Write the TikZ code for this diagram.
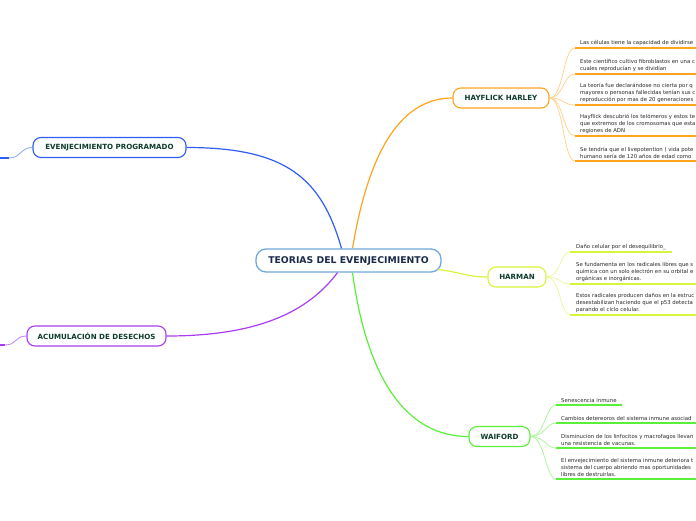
\documentclass[tikz,border=0pt]{standalone}
\usepackage{fontspec}
\setmainfont{DejaVu Sans}
\definecolor{cbord}{HTML}{6FA8DC}
\definecolor{navy}{HTML}{1B2A49}
\definecolor{dkg}{HTML}{0E3B2B}
\definecolor{blu}{HTML}{2F5CF5}
\definecolor{blul}{HTML}{8FB0F8}
\definecolor{org}{HTML}{FFA41C}
\definecolor{orgl}{HTML}{FFD08A}
\definecolor{ylw}{HTML}{D6F53C}
\definecolor{ylwl}{HTML}{E8F79A}
\definecolor{grn}{HTML}{5AF03A}
\definecolor{grnl}{HTML}{A6F594}
\definecolor{pur}{HTML}{A93BF0}
\definecolor{purl}{HTML}{C98AF5}
\definecolor{ltxt}{HTML}{262626}
\begin{document}
\begin{tikzpicture}[x=1pt,y=-1pt,
  central/.style={draw=cbord, line width=1.3pt, rounded corners=10pt, fill=white,
    minimum width=185pt, minimum height=23pt, inner sep=0pt,
    font=\fontsize{9.3}{11}\selectfont\bfseries, text=navy},
  sub/.style={rounded corners=8pt, line width=1.1pt, fill=white, minimum height=20pt,
    inner sep=0pt, font=\fontsize{7.1}{8.5}\selectfont\bfseries, text=dkg},
  leaf/.style={anchor=south west, inner sep=0pt, align=left,
    font=\fontsize{5.35}{6.7}\selectfont, text=ltxt},
  uline/.style={line width=2pt},
  twig/.style={line width=0.7pt},
  mainc/.style={line width=1.2pt}
]
\clip (0,0) rectangle (696,520);

% main nodes
\node[central] (c) at (348.5,260.5) {TEORIAS DEL EVENJECIMIENTO};
\node[sub, draw=org, minimum width=96pt] (hay) at (501,98) {HAYFLICK HARLEY};
\node[sub, draw=ylw, minimum width=58pt] (har) at (517,277) {HARMAN};
\node[sub, draw=grn, minimum width=61pt] (wai) at (499.5,436.5) {WAIFORD};
\node[sub, draw=blu, minimum width=153pt] (evp) at (109.5,147.5) {EVENJECIMIENTO PROGRAMADO};
\node[sub, draw=pur, minimum width=139pt] (acu) at (96.5,336) {ACUMULACIÓN DE DESECHOS};

% main connectors
\draw[mainc, blu] ([xshift=-7pt]c.north) .. controls +(-20,-70) and +(100,0) .. (evp.east);
\draw[mainc, org] ([xshift=4pt]c.north) .. controls +(15,-90) and +(-55,0) .. (hay.west);
\draw[mainc, pur] ([xshift=-11pt]c.south) .. controls +(-30,40) and +(90,0) .. (acu.east);
\draw[mainc, grn] ([xshift=4pt]c.south) .. controls +(15,110) and +(-60,0) .. (wai.west);
\draw[mainc, ylw] ([xshift=-4pt,yshift=-9pt]c.east) .. controls +(20,2) and +(-20,0) .. (har.west);

% left stubs
\coordinate (bl) at (9,158);
\coordinate (bl0) at (-2,158);
\draw[twig, blul, line width=0.9pt] (evp.west) .. controls +(-12,0) and +(12,0) .. (bl);
\draw[uline, blu] (bl) -- (bl0);
\coordinate (pl) at (5,345);
\coordinate (pl0) at (-2,345);
\draw[twig, purl, line width=0.9pt] (acu.west) .. controls +(-12,0) and +(12,0) .. (pl);
\draw[uline, pur] (pl) -- (pl0);

% Hayflick leaves
\coordinate (h1) at (575,48);  \coordinate (h1e) at (700,48);
\coordinate (h2) at (575,74);  \coordinate (h2e) at (700,74);
\coordinate (h3) at (575,105); \coordinate (h3e) at (700,105);
\coordinate (h4) at (575,136); \coordinate (h4e) at (700,136);
\coordinate (h5) at (575,161); \coordinate (h5e) at (700,161);
\node[leaf] (h1t) at (580,45.5) {Las células tiene la capacidad de dividirse};
\node[leaf] (h2t) at (580,71.5) {Este científico cultivo fibroblastos en una c\\cuales reproducían y se dividían};
\node[leaf] (h3t) at (580,102.5) {La teoría fue declarándose no cierta por q\\mayores o personas fallecidas tenían sus c\\reproducción por mas de 20 generaciones};
\node[leaf] (h4t) at (580,133.5) {Hayflick descubrió los telómeros y estos te\\que extremos de los cromosomas que esta\\regiones de ADN};
\node[leaf] (h5t) at (580,158.5) {Se tendría que el livepotention ( vida pote\\humano sería de 120 años de edad como};
\foreach \i in {1,...,5}{
  \draw[twig, orgl] (hay.east) .. controls +(14,0) and +(-12,0) .. (h\i);
  \draw[uline, org] (h\i) -- (h\i e);
}

% Harman leaves
\coordinate (r1) at (570,252); \coordinate (r1e) at (672,252);
\coordinate (r2) at (570,284); \coordinate (r2e) at (700,284);
\coordinate (r3) at (570,315); \coordinate (r3e) at (700,315);
\node[leaf] (r1t) at (576,249.5) {Daño celular por el desequilibrio\_};
\node[leaf] (r2t) at (576,281.5) {Se fundamenta en los radicales libres que s\\química con un solo electrón en su orbital e\\orgánicas e inorgánicas.};
\node[leaf] (r3t) at (576,312.5) {Estos radicales producen daños en la estruc\\desestabilizan haciendo que el p53 detecta\\parando el ciclo celular.};
\foreach \i in {1,2,3}{
  \draw[twig, ylwl] (har.east) .. controls +(14,0) and +(-10,0) .. (r\i);
  \draw[uline, ylw] (r\i) -- (r\i e);
}

% Waiford leaves
\coordinate (w1) at (556,405); \coordinate (w1e) at (622,405);
\coordinate (w2) at (556,423); \coordinate (w2e) at (700,423);
\coordinate (w3) at (556,448); \coordinate (w3e) at (700,448);
\coordinate (w4) at (556,479); \coordinate (w4e) at (700,479);
\node[leaf] (w1t) at (561,402.5) {Senescencia inmune};
\node[leaf] (w2t) at (561,420.5) {Cambios detereoros del sistema inmune asociad};
\node[leaf] (w3t) at (561,445.5) {Disminucion de los linfocitos y macrofagos llevan\\una resistencia de vacunas.};
\node[leaf] (w4t) at (561,476.5) {El envejecimiento del sistema inmune deteriora t\\sistema del cuerpo abriendo mas oportunidades\\libres de destruirlas.};
\foreach \i in {1,...,4}{
  \draw[twig, grnl] (wai.east) .. controls +(14,0) and +(-10,0) .. (w\i);
  \draw[uline, grn] (w\i) -- (w\i e);
}
\end{tikzpicture}
\end{document}
